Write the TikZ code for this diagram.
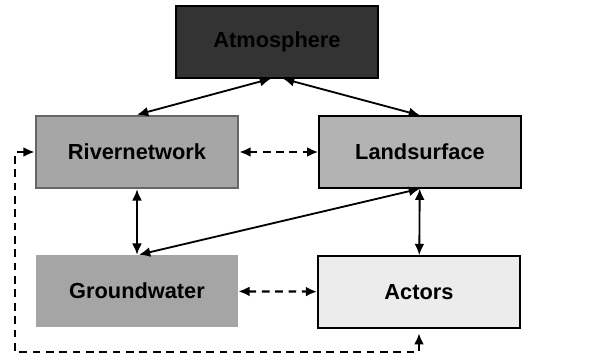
\documentclass[tikz,border=0pt]{standalone}
\usepackage{fontspec}
\setmainfont{Liberation Sans}
\usepackage{tikz}
\usetikzlibrary{arrows.meta,positioning}
\definecolor{LayerAtmo}{RGB}{51,51,51}
\definecolor{LayerRiver}{RGB}{166,166,166}
\definecolor{LayerRiverEdge}{RGB}{102,102,102}
\definecolor{LayerLand}{RGB}{179,179,179}
\definecolor{LayerGround}{RGB}{165,165,165}
\definecolor{LayerActors}{RGB}{236,236,236}

\begin{document}
\begin{tikzpicture}[
    x=0.025cm, y=-0.025cm,
    box/.style={minimum width=5.05cm, minimum height=1.8cm,
                                align=center, font=\fontsize{15.5}{18}\selectfont\bfseries},
    arr/.style={{Latex[length=8pt,width=7pt]}-{Latex[length=8pt,width=7pt]}, line width=1.3pt},
    darr/.style={arr, line width=1.6pt, dash pattern=on 5.5pt off 4pt},
]
    \useasboundingbox (0,0) rectangle (610,358);
    \node[box, fill=LayerAtmo, draw=black, line width=0.9pt]  (atmo) at (277,42) {Atmosphere};
    \node[box, fill=LayerRiver, draw=LayerRiverEdge, line width=1.8pt]  (river) at (137,152) {Rivernetwork};
    \node[box, fill=LayerLand, draw=black, line width=0.9pt]  (land) at (420,152) {Landsurface};
    \node[box, fill=LayerGround]  (ground) at (137,291) {Groundwater};
    \node[box, fill=LayerActors, draw=black, line width=1.3pt]  (actors) at (419,292) {Actors};
    \coordinate (loop) at (15,352);
    \draw[arr] ([xshift=-0.15cm]atmo.south) -- (river.north);
    \draw[arr] ([xshift=0.15cm]atmo.south) -- (land.north);
    \draw[darr] (river) -- (land);
    \draw[arr] (river) -- (ground);
    \draw[arr] (land.south) -- ([xshift=0.05cm]ground.north);
    \draw[arr] (land) -- (actors);
    \draw[darr] (ground) -- (actors);
    \draw[darr, shorten <=3pt] (actors.south) |- (loop) |- (river.west);
\end{tikzpicture}
\end{document}
